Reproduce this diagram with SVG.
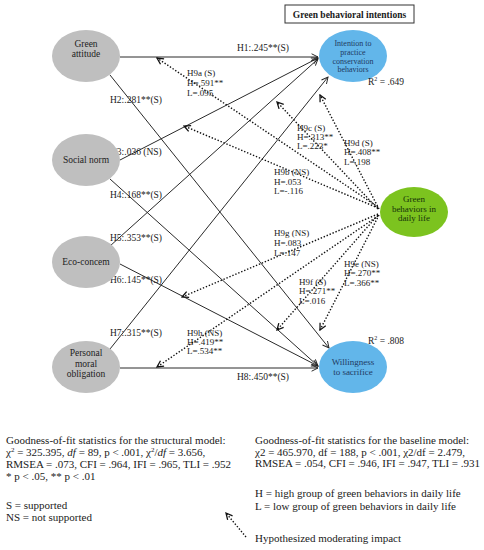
<svg xmlns="http://www.w3.org/2000/svg" width="484" height="550" viewBox="0 0 484 550">
<style>
text{font-family:"Liberation Serif","Times New Roman",serif;fill:#1a1a1a}
.grey{fill:#bfbfbf}
.blue{fill:#62b6ea}
.green{fill:#7cc31f}
.nt{font-size:9.5px;text-anchor:middle;fill:#222}
.bt{font-size:8px;text-anchor:middle;fill:#1f3a63}
.bt9{font-size:9px;text-anchor:middle;fill:#1f3a63}
.gt{font-size:9px;text-anchor:middle;fill:#16330a}
.hl{font-size:9.5px}
.ml{font-size:9px}
.ft{font-size:11px}
.solid{stroke:#2a2a2a;stroke-width:1;fill:none;marker-end:url(#ah)}
.dot{stroke:#111;stroke-width:1.4;fill:none;stroke-dasharray:1.4 1.8;marker-end:url(#ahd)}
</style>
<defs>
<marker id="ah" viewBox="0 0 10 10" refX="9" refY="5" markerWidth="8" markerHeight="8" markerUnits="userSpaceOnUse" orient="auto"><path d="M1,1 L9,5 L1,9" fill="none" stroke="#222" stroke-width="1.2"/></marker>
<marker id="ahd" viewBox="0 0 10 10" refX="9" refY="5" markerWidth="8" markerHeight="8" markerUnits="userSpaceOnUse" orient="auto"><path d="M1,1 L9,5 L1,9" fill="none" stroke="#111" stroke-width="1.6"/></marker>
</defs>
<rect width="484" height="550" fill="#fff"/>

<g id="title">
<rect x="285" y="5" width="129" height="18" fill="#fff" stroke="#333" stroke-width="1"/>
<text x="349.5" y="18" font-size="9.5" font-weight="bold" text-anchor="middle">Green behavioral intentions</text>
</g>

<g id="connectors">
<line class="solid" x1="120" y1="57" x2="318" y2="57"/>
<line class="solid" x1="110" y1="75" x2="329" y2="348"/>
<line class="solid" x1="120" y1="160" x2="318" y2="58"/>
<line class="solid" x1="110" y1="179" x2="318" y2="366"/>
<line class="solid" x1="110" y1="246" x2="318" y2="59"/>
<line class="solid" x1="120" y1="264" x2="318" y2="366"/>
<line class="solid" x1="110" y1="349" x2="328" y2="77"/>
<line class="solid" x1="120" y1="368" x2="318" y2="368"/>

<line class="dot" x1="378" y1="207" x2="157" y2="58"/>
<line class="dot" x1="378" y1="208" x2="184" y2="126"/>
<line class="dot" x1="378" y1="209" x2="277" y2="102"/>
<line class="dot" x1="379" y1="209" x2="320" y2="95"/>
<line class="dot" x1="378" y1="214" x2="182" y2="297"/>
<line class="dot" x1="378" y1="215" x2="277" y2="330"/>
<line class="dot" x1="379" y1="215" x2="320" y2="330"/>
<line class="dot" x1="378" y1="216" x2="157" y2="367"/>
</g>

<g id="path-labels">
<text class="hl" x="237" y="51">H1:.245**(S)</text>
<text class="hl" x="110" y="103">H2:.281**(S)</text>
<text class="hl" x="110" y="155">H3:.036 (NS)</text>
<text class="hl" x="110" y="198">H4:.168**(S)</text>
<text class="hl" x="110" y="241">H5:.353**(S)</text>
<text class="hl" x="110" y="283">H6:.145**(S)</text>
<text class="hl" x="110" y="336">H7:.315**(S)</text>
<text class="hl" x="237" y="380">H8:.450**(S)</text>
</g>

<g id="moderation-labels" class="ml">
<text class="ml" x="187" y="76">H9a (S)</text>
<text class="ml" x="187" y="86">H=.591**</text>
<text class="ml" x="187" y="96">L=.095</text>

<text class="ml" x="274" y="175">H9b (NS)</text>
<text class="ml" x="274" y="185">H=.053</text>
<text class="ml" x="274" y="194">L=-.116</text>

<text class="ml" x="297" y="131">H9c (S)</text>
<text class="ml" x="297" y="140">H=.313**</text>
<text class="ml" x="297" y="149">L=.223*</text>

<text class="ml" x="344" y="146">H9d (S)</text>
<text class="ml" x="344" y="155">H=.408**</text>
<text class="ml" x="344" y="165">L=.198</text>

<text class="ml" x="274" y="236">H9g (NS)</text>
<text class="ml" x="274" y="246">H=.083</text>
<text class="ml" x="274" y="256">L=.147</text>

<text class="ml" x="299" y="285">H9f (S)</text>
<text class="ml" x="299" y="294">H=.271**</text>
<text class="ml" x="299" y="304">L=.016</text>

<text class="ml" x="344" y="267">H9e (NS)</text>
<text class="ml" x="344" y="276">H=.270**</text>
<text class="ml" x="344" y="286">L=.366**</text>

<text class="ml" x="187" y="336">H9h (NS)</text>
<text class="ml" x="187" y="345">H=.419**</text>
<text class="ml" x="187" y="354">L=.534**</text>
</g>

<g id="node-green-attitude">
<ellipse class="grey" cx="86" cy="56" rx="34" ry="26"/>
<text class="nt" x="86" y="47">Green</text>
<text class="nt" x="86" y="57">attitude</text>
</g>
<g id="node-social-norm">
<ellipse class="grey" cx="86" cy="160" rx="34" ry="26"/>
<text class="nt" x="86" y="163">Social norm</text>
</g>
<g id="node-eco-concern">
<ellipse class="grey" cx="86" cy="262" rx="34" ry="26"/>
<text class="nt" x="86" y="265">Eco-concem</text>
</g>
<g id="node-personal-moral-obligation">
<ellipse class="grey" cx="86" cy="367" rx="34" ry="26"/>
<text class="nt" x="86" y="356">Personal</text>
<text class="nt" x="86" y="367">moral</text>
<text class="nt" x="86" y="377">obligation</text>
</g>
<g id="node-intention">
<ellipse class="blue" cx="353" cy="56" rx="34" ry="26"/>
<text class="bt" x="353" y="46">Intention to</text>
<text class="bt" x="353" y="55">practice</text>
<text class="bt" x="353" y="64">conservation</text>
<text class="bt" x="353" y="72">behaviors</text>
</g>
<g id="node-willingness">
<ellipse class="blue" cx="353" cy="367" rx="34" ry="26"/>
<text class="bt9" x="353" y="365">Willingness</text>
<text class="bt9" x="353" y="375">to sacrifice</text>
</g>
<g id="node-green-behaviors">
<ellipse class="green" cx="414" cy="212" rx="34" ry="25"/>
<text class="gt" x="414" y="202">Green</text>
<text class="gt" x="414" y="212">behaviors in</text>
<text class="gt" x="414" y="221">daily life</text>
</g>

<g id="r-squared">
<text x="368" y="85" font-size="9.5">R<tspan font-size="6" dy="-4">2</tspan><tspan dy="4"> = .649</tspan></text>
<text x="368" y="344" font-size="9.5">R<tspan font-size="6" dy="-4">2</tspan><tspan dy="4"> = .808</tspan></text>
</g>

<g id="notes">
<text class="ft" x="6" y="444">Goodness-of-fit statistics for the structural model:</text>
<text class="ft" x="6" y="456">χ<tspan font-size="7" dy="-4">2</tspan><tspan dy="4"> = 325.395, </tspan><tspan font-style="italic">df</tspan> = 89, p &lt; .001, χ<tspan font-size="7" dy="-4">2</tspan><tspan dy="4">/</tspan><tspan font-style="italic">df</tspan> = 3.656,</text>
<text class="ft" x="6" y="468">RMSEA = .073, CFI = .964, IFI = .965, TLI = .952</text>
<text class="ft" x="6" y="480">* p &lt; .05, ** p &lt; .01</text>
<text class="ft" x="6" y="509">S = supported</text>
<text class="ft" x="6" y="521">NS = not supported</text>

<text class="ft" x="255" y="444">Goodness-of-fit statistics for the baseline model:</text>
<text class="ft" x="255" y="455.5">χ2 = 465.970, df = 188, p &lt; .001, χ2/df = 2.479,</text>
<text class="ft" x="255" y="467">RMSEA = .054, CFI = .946, IFI = .947, TLI = .931</text>
<text class="ft" x="255" y="497">H = high group of green behaviors in daily life</text>
<text class="ft" x="255" y="510">L = low group of green behaviors in daily life</text>
</g>

<g id="legend">
<line class="dot" x1="246" y1="537" x2="226" y2="513"/>
<text class="ft" x="255" y="542">Hypothesized moderating impact</text>
</g>
</svg>
